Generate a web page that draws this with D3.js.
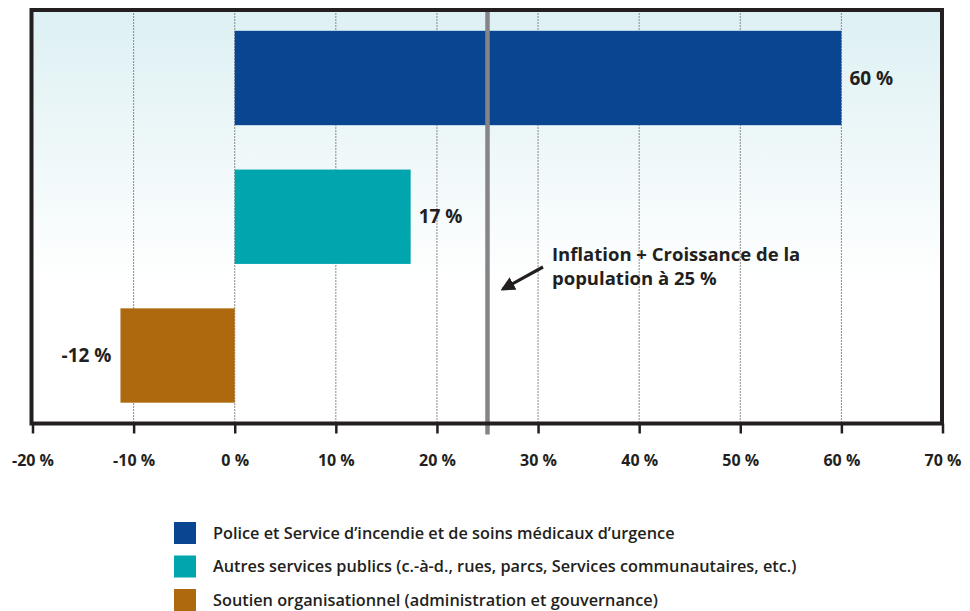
<!DOCTYPE html>
<html>
<head>
<meta charset="utf-8">
<script src="https://cdn.jsdelivr.net/npm/d3@7"></script>
<style>
  body { margin: 0; background: #fff; }
  text { font-family: "Open Sans", "Noto Sans", sans-serif; }
</style>
</head>
<body>
<script>
// chart data
const categories = ["Police", "Autres", "Soutien"];
const values = [60, 17.4, -11.3];
const valueLabels = ["60 %", "17 %", "-12 %"];
const colors = ["#0a4592", "#00a5ad", "#ae690e"];
const legendLabels = [
  "Police et Service d\u2019incendie et de soins m\u00e9dicaux d\u2019urgence",
  "Autres services publics (c.-\u00e0-d., rues, parcs, Services communautaires, etc.)",
  "Soutien organisationnel (administration et gouvernance)"
];
const xTicks = [-20, -10, 0, 10, 20, 30, 40, 50, 60, 70];
const refValue = 25;
const refText = ["Inflation + Croissance de la", "population \u00e0 25 %"];

const width = 970, height = 611;
const plotLeft = 31.5, plotRight = 942, plotTop = 10, plotBottom = 423.5;

const svg = d3.select("body").append("svg").attr("width", width).attr("height", height);

const x = d3.scaleLinear().domain([-20, 70]).range([32.5, 942.5]);
const y = d3.scaleBand().domain(categories).range([plotTop, plotBottom]).paddingInner(0.32).paddingOuter(0.15);

// background gradient
const defs = svg.append("defs");
const grad = defs.append("linearGradient").attr("id", "bg")
  .attr("x1", 0).attr("y1", 0).attr("x2", 0).attr("y2", 1);
grad.append("stop").attr("offset", "0").attr("stop-color", "#ddf0f3");
grad.append("stop").attr("offset", "0.66").attr("stop-color", "#ffffff");

svg.append("rect").attr("x", plotLeft).attr("y", plotTop)
  .attr("width", plotRight - plotLeft).attr("height", plotBottom - plotTop)
  .attr("fill", "url(#bg)");

// dotted grid
svg.append("g").selectAll("line")
  .data(xTicks.filter((d) => d > -20 && d < 70))
  .enter().append("line")
  .attr("x1", (d) => x(d)).attr("x2", (d) => x(d))
  .attr("y1", plotTop).attr("y2", plotBottom)
  .attr("stroke", "#8a8a8a").attr("stroke-width", 1).attr("stroke-dasharray", "2,1");

// bars
svg.append("g").selectAll("rect")
  .data(values)
  .enter().append("rect")
  .attr("x", (d) => x(Math.min(0, d)))
  .attr("width", (d) => Math.abs(x(d) - x(0)))
  .attr("y", (d, i) => y(categories[i]))
  .attr("height", y.bandwidth())
  .attr("fill", (d, i) => colors[i]);

// value labels
svg.append("g").selectAll("text")
  .data(values)
  .enter().append("text")
  .attr("x", (d) => d >= 0 ? x(d) + 8 : x(d) - 9)
  .attr("y", (d, i) => y(categories[i]) + y.bandwidth() / 2)
  .attr("dy", "0.35em")
  .attr("text-anchor", (d) => d >= 0 ? "start" : "end")
  .attr("font-size", 19).attr("font-weight", "bold").attr("fill", "#231f20")
  .text((d, i) => valueLabels[i]);

// reference line
svg.append("line")
  .attr("x1", x(refValue)).attr("x2", x(refValue))
  .attr("y1", plotTop).attr("y2", plotBottom + 11)
  .attr("stroke", "#858589").attr("stroke-width", 4.5);

// annotation
svg.append("text")
  .attr("x", 552).attr("y", 261)
  .attr("font-size", 18.5).attr("font-weight", "bold").attr("fill", "#231f20")
  .selectAll("tspan").data(refText).enter().append("tspan")
  .attr("x", 552).attr("dy", (d, i) => i === 0 ? 0 : 24)
  .text((d) => d);

defs.append("marker").attr("id", "arr")
  .attr("viewBox", "0 0 10 10").attr("refX", 8).attr("refY", 5)
  .attr("markerWidth", 4.5).attr("markerHeight", 4.5).attr("orient", "auto")
  .append("path").attr("d", "M0,0 L10,5 L0,10 z").attr("fill", "#231f20");

svg.append("line")
  .attr("x1", 543).attr("y1", 267).attr("x2", 503).attr("y2", 289)
  .attr("stroke", "#231f20").attr("stroke-width", 3.2)
  .attr("marker-end", "url(#arr)");

// frame
svg.append("rect").attr("x", plotLeft).attr("y", plotTop)
  .attr("width", plotRight - plotLeft).attr("height", plotBottom - plotTop)
  .attr("fill", "none").attr("stroke", "#231f20").attr("stroke-width", 4);

// x axis
const xAxis = d3.axisBottom(x).tickValues(xTicks).tickSize(10).tickSizeOuter(0)
  .tickFormat((d) => d + " %");
const gx = svg.append("g").attr("transform", "translate(0," + plotBottom + ")").call(xAxis);
gx.select(".domain").remove();
gx.selectAll(".tick line").attr("stroke", "#231f20").attr("stroke-width", 2.5);
gx.selectAll(".tick text")
  .attr("y", 37).attr("dy", "0.35em")
  .attr("font-size", 16).attr("font-weight", "bold").attr("fill", "#231f20")
  .style("font-family", "'Open Sans', 'Noto Sans', sans-serif");

// legend
const legend = svg.append("g").selectAll("g")
  .data(legendLabels)
  .enter().append("g")
  .attr("transform", (d, i) => "translate(174," + (522 + i * 33.5) + ")");
legend.append("rect").attr("width", 22).attr("height", 22).attr("fill", (d, i) => colors[i]);
legend.append("text").attr("x", 39).attr("y", 11).attr("dy", "0.35em")
  .attr("font-size", 16.3).attr("font-weight", 600).attr("fill", "#231f20")
  .text((d) => d);
</script>
</body>
</html>
